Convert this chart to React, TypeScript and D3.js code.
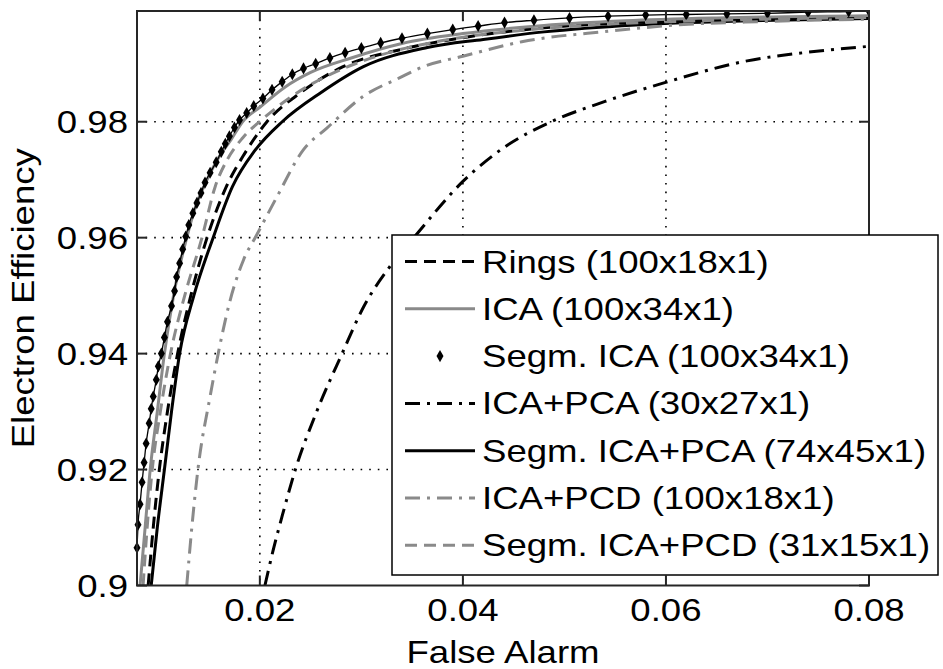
import { useEffect, useRef } from 'react';
import * as d3 from 'd3';

// axis ticks
const xTicks = [0.02, 0.04, 0.06, 0.08];
const xTickLabels = ['0.02', '0.04', '0.06', '0.08'];
const yTicks = [0.9, 0.92, 0.94, 0.96, 0.98];
const yTickLabels = ['0.9', '0.92', '0.94', '0.96', '0.98'];

// [false alarm, electron efficiency]
const rings = [
  [0.0090, 0.9], [0.0095, 0.91], [0.0101, 0.92], [0.0109, 0.93], [0.0119, 0.94],
  [0.0132, 0.95], [0.0148, 0.96], [0.0167, 0.9688], [0.0185, 0.9745], [0.0207, 0.980],
  [0.0240, 0.985], [0.0282, 0.9895], [0.0340, 0.9925], [0.0400, 0.9945], [0.0480, 0.9962],
  [0.0580, 0.9972], [0.0680, 0.9977], [0.0800, 0.9980],
];

const ica = [
  [0.0082, 0.9], [0.0087, 0.91], [0.0092, 0.92], [0.0099, 0.93], [0.0106, 0.94],
  [0.0115, 0.95], [0.0128, 0.96], [0.0136, 0.965], [0.0148, 0.970], [0.0160, 0.974],
  [0.0172, 0.977], [0.0183, 0.980], [0.0200, 0.9825], [0.0225, 0.9860], [0.0250, 0.9885],
  [0.0290, 0.9910], [0.0340, 0.9935], [0.0400, 0.9952], [0.0480, 0.9966], [0.0560, 0.9974],
  [0.0650, 0.9979], [0.0800, 0.9983],
];

const segmIca = [
  [0.0079, 0.9065], [0.0080, 0.9105], [0.0082, 0.9140], [0.0084, 0.9178], [0.0086, 0.9212],
  [0.0088, 0.9245], [0.0091, 0.9280], [0.0093, 0.9305], [0.0095, 0.9326], [0.0098, 0.9355],
  [0.0100, 0.9378], [0.0103, 0.9400], [0.0106, 0.9428], [0.0109, 0.9455], [0.0113, 0.9482],
  [0.0116, 0.9508], [0.0118, 0.9532], [0.0121, 0.9556], [0.0124, 0.9580], [0.0127, 0.9602],
  [0.0130, 0.9622], [0.0134, 0.9642], [0.0138, 0.9660], [0.0142, 0.9677], [0.0146, 0.9695],
  [0.0151, 0.9712], [0.0157, 0.9730], [0.0162, 0.9748], [0.0166, 0.9762], [0.0170, 0.9775],
  [0.0175, 0.9790], [0.0180, 0.9803], [0.0187, 0.9815], [0.0194, 0.9827], [0.0203, 0.9840],
  [0.0212, 0.9855], [0.0222, 0.9869], [0.0232, 0.9882], [0.0243, 0.9892], [0.0255, 0.9900],
  [0.0269, 0.9910], [0.0284, 0.9919], [0.0300, 0.9927], [0.0319, 0.9936], [0.0340, 0.9944],
  [0.0365, 0.9952], [0.0390, 0.9959], [0.0415, 0.9965], [0.0441, 0.9971], [0.0470, 0.9975],
  [0.0505, 0.9979], [0.0543, 0.9982], [0.0580, 0.9984], [0.0620, 0.9985], [0.0660, 0.9986],
  [0.0700, 0.9987], [0.0740, 0.9989], [0.0780, 0.9990], [0.0800, 0.9991],
];

const icaPca = [
  [0.0205, 0.9], [0.0213, 0.906], [0.0222, 0.912], [0.0235, 0.92], [0.0256, 0.93],
  [0.0281, 0.94], [0.0302, 0.948], [0.0328, 0.955], [0.0353, 0.9603], [0.0400, 0.9697],
  [0.0440, 0.9755], [0.0487, 0.9800], [0.0540, 0.9835], [0.0598, 0.9867], [0.0680, 0.9905],
  [0.0740, 0.9920], [0.0800, 0.9930],
];

const segmIcaPca = [
  [0.0093, 0.9], [0.0099, 0.91], [0.0106, 0.92], [0.0113, 0.93], [0.0121, 0.94],
  [0.0135, 0.95], [0.0154, 0.96], [0.0173, 0.9688], [0.0195, 0.975], [0.0222, 0.980],
  [0.0260, 0.985], [0.0302, 0.9895], [0.0365, 0.9928], [0.0420, 0.9942], [0.0480, 0.9955],
  [0.0570, 0.9967], [0.0680, 0.9974], [0.0800, 0.9978],
];

const icaPcd = [
  [0.0128, 0.9], [0.0133, 0.91], [0.0139, 0.92], [0.0151, 0.9326], [0.0159, 0.94],
  [0.0170, 0.9487], [0.0184, 0.9562], [0.0197, 0.9605], [0.0217, 0.9671], [0.0243, 0.9752],
  [0.0266, 0.9789], [0.0302, 0.9844], [0.0338, 0.9876], [0.0361, 0.9895], [0.0400, 0.9913],
  [0.0458, 0.9938], [0.0543, 0.9956], [0.0612, 0.9967], [0.0700, 0.9973], [0.0800, 0.9977],
];

const segmIcaPcd = [
  [0.0085, 0.9], [0.0089, 0.91], [0.0094, 0.92], [0.0102, 0.93], [0.0112, 0.94],
  [0.0126, 0.95], [0.0143, 0.96], [0.0156, 0.9688], [0.0168, 0.9735], [0.0183, 0.9772],
  [0.0203, 0.9805], [0.0230, 0.9842], [0.0265, 0.9878], [0.0310, 0.9910], [0.0380, 0.9940],
  [0.0460, 0.9958], [0.0550, 0.9969], [0.0650, 0.9975], [0.0800, 0.9980],
];

const GRAY = '#8a8a8a';

const series = [
  { name: 'Rings (100x18x1)', data: rings, color: '#000', dash: '12,7', line: true, marker: false },
  { name: 'ICA (100x34x1)', data: ica, color: GRAY, dash: null, line: true, marker: false },
  { name: 'Segm. ICA (100x34x1)', data: segmIca, color: '#000', dash: null, line: false, marker: true },
  { name: 'ICA+PCA (30x27x1)', data: icaPca, color: '#000', dash: '15,7,3,7', line: true, marker: false },
  { name: 'Segm. ICA+PCA (74x45x1)', data: segmIcaPca, color: '#000', dash: null, line: true, marker: false },
  { name: 'ICA+PCD (100x18x1)', data: icaPcd, color: GRAY, dash: '15,7,3,7', line: true, marker: false },
  { name: 'Segm. ICA+PCD (31x15x1)', data: segmIcaPcd, color: GRAY, dash: '12,7', line: true, marker: false },
];

const FONT = '"Liberation Sans", Arial, Helvetica, sans-serif';
const SX = 1.18; // the figure's lettering is stretched sideways

export default function App() {
  const svgRef = useRef(null);

  useEffect(() => {
    const svg = d3.select(svgRef.current);
    svg.selectAll('*').remove();

    const width = 943;
    const height = 669;
    const margin = { top: 11, right: 74, bottom: 83.5, left: 137 };
    const iw = width - margin.left - margin.right;
    const ih = height - margin.top - margin.bottom;

    const x = d3.scaleLinear().domain([0.0079, 0.08]).range([0, iw]);
    const y = d3.scaleLinear().domain([0.9, 0.9991]).range([ih, 0]);

    const g = svg.append('g').attr('transform', `translate(${margin.left},${margin.top})`);

    const text = (parent, px, py, str, anchor, rot = 0) =>
      parent.append('text')
        .attr('transform', `translate(${px},${py}) rotate(${rot}) scale(${SX},1)`)
        .attr('text-anchor', anchor)
        .style('font-family', FONT)
        .style('font-size', '31px')
        .attr('fill', '#000')
        .text(str);

    svg.append('defs').append('clipPath').attr('id', 'plot-clip')
      .append('rect').attr('x', -4).attr('width', iw + 4).attr('height', ih);

    // dotted grid
    const grid = g.append('g')
      .attr('stroke', '#000')
      .attr('stroke-width', 1.6)
      .attr('stroke-dasharray', '1.6,7');
    xTicks.filter(t => t < 0.08).forEach(t => {
      grid.append('line').attr('x1', x(t)).attr('x2', x(t)).attr('y1', 0).attr('y2', ih);
    });
    yTicks.filter(t => t > 0.9).forEach(t => {
      grid.append('line').attr('x1', 0).attr('x2', iw).attr('y1', y(t)).attr('y2', y(t));
    });

    // curves
    const line = d3.line()
      .x(d => x(d[0]))
      .y(d => y(d[1]))
      .curve(d3.curveMonotoneX);

    const plot = g.append('g').attr('clip-path', 'url(#plot-clip)');
    const diamond = d3.symbol().type(d3.symbolDiamond).size(42);

    series.forEach(s => {
      if (s.line) {
        plot.append('path')
          .datum(s.data)
          .attr('fill', 'none')
          .attr('stroke', s.color)
          .attr('stroke-width', 3)
          .attr('stroke-dasharray', s.dash)
          .attr('d', line);
      }
      if (s.marker) {
        plot.append('path')
          .datum(s.data)
          .attr('fill', 'none')
          .attr('stroke', s.color)
          .attr('stroke-width', 1.3)
          .attr('d', line);
        plot.selectAll(null)
          .data(s.data)
          .enter()
          .append('path')
          .attr('transform', d => `translate(${x(d[0])},${y(d[1])})`)
          .attr('d', diamond)
          .attr('fill', s.color);
      }
    });

    // axes box and inward ticks on all sides
    const axisColor = '#262626';
    g.append('rect')
      .attr('width', iw).attr('height', ih)
      .attr('fill', 'none').attr('stroke', axisColor).attr('stroke-width', 2);

    const tickLen = 10;
    const ticks = g.append('g').attr('stroke', axisColor).attr('stroke-width', 2);
    xTicks.forEach(t => {
      ticks.append('line').attr('x1', x(t)).attr('x2', x(t)).attr('y1', ih).attr('y2', ih - tickLen);
      ticks.append('line').attr('x1', x(t)).attr('x2', x(t)).attr('y1', 0).attr('y2', tickLen);
    });
    yTicks.forEach(t => {
      ticks.append('line').attr('x1', 0).attr('x2', tickLen).attr('y1', y(t)).attr('y2', y(t));
      ticks.append('line').attr('x1', iw).attr('x2', iw - tickLen).attr('y1', y(t)).attr('y2', y(t));
    });

    xTicks.forEach((t, i) => text(g, x(t), ih + 35, xTickLabels[i], 'middle'));
    yTicks.forEach((t, i) => text(g, -9, y(t) + 11, yTickLabels[i], 'end'));

    text(svg, margin.left + iw / 2, 663, 'False Alarm', 'middle');
    text(svg, 34, margin.top + ih / 2, 'Electron Efficiency', 'middle', -90);

    // legend
    const lg = svg.append('g').attr('transform', 'translate(392,235)');
    lg.append('rect')
      .attr('width', 546).attr('height', 340)
      .attr('fill', '#fff').attr('stroke', '#000').attr('stroke-width', 1.5);

    series.forEach((s, i) => {
      const cy = 26.5 + i * 47.3;
      if (s.line) {
        lg.append('line')
          .attr('x1', 13).attr('x2', 83).attr('y1', cy).attr('y2', cy)
          .attr('stroke', s.color).attr('stroke-width', 3)
          .attr('stroke-dasharray', s.dash);
      }
      if (s.marker) {
        lg.append('path')
          .attr('transform', `translate(48,${cy})`)
          .attr('d', diamond)
          .attr('fill', s.color);
      }
      text(lg, 90, cy + 11, s.name, 'start');
    });
  }, []);

  return (
    <svg
      ref={svgRef}
      width={943}
      height={669}
      style={{ position: 'absolute', left: 0, top: 0, background: '#fff' }}
    />
  );
}
